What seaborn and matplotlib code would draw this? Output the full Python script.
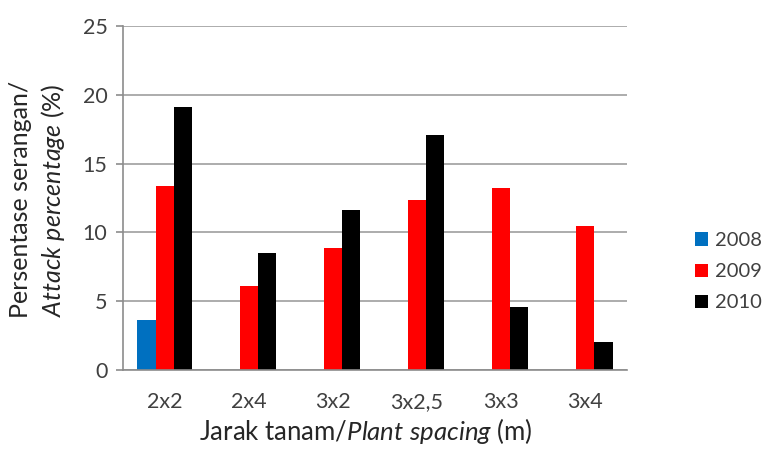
import matplotlib
matplotlib.use("Agg")
import matplotlib.pyplot as plt
import pandas as pd
import seaborn as sns

spacing = ["2x2", "2x4", "3x2", "3x2,5", "3x3", "3x4"]
years = ["2008", "2009", "2010"]
attack_2008 = [3.6, None, None, None, None, None]
attack_2009 = [13.35, 6.1, 8.87, 12.33, 13.25, 10.47]
attack_2010 = [19.14, 8.53, 11.65, 17.05, 4.55, 2.03]
colors = ["#0070C0", "#FF0000", "#000000"]

rows = []
for year, vals in zip(years, [attack_2008, attack_2009, attack_2010]):
    for sp, v in zip(spacing, vals):
        if v is not None:
            rows.append({"spacing": sp, "year": year, "value": v})
df = pd.DataFrame(rows)

sns.set_style("white")
plt.rcParams["font.family"] = ["Lato", "DejaVu Sans"]
plt.rcParams["mathtext.fontset"] = "custom"
plt.rcParams["mathtext.rm"] = "Lato"
plt.rcParams["mathtext.it"] = "Lato:italic"

fig = plt.figure(figsize=(7.77, 4.5), dpi=100)
ax = fig.add_axes([0.158, 0.178, 0.649, 0.764])

sns.barplot(data=df, x="spacing", y="value", hue="year", order=spacing,
            hue_order=years, palette=colors, width=0.655, saturation=1,
            edgecolor="none", ax=ax)

ax.set_ylim(0, 25)
ax.set_xlim(-0.5, 5.5)
ax.set_yticks([0, 5, 10, 15, 20, 25])
ax.yaxis.grid(True, color="#a6a6a6", linewidth=1.3)
ax.set_axisbelow(True)
for s in ["top", "right"]:
    ax.spines[s].set_visible(False)
for s in ["left", "bottom"]:
    ax.spines[s].set_color("#8c8c8c")
    ax.spines[s].set_linewidth(1.2)

ax.set_xticks([i + 0.5 for i in range(-1, 6)], minor=True)
ax.tick_params(axis="x", which="minor", length=8, color="#8c8c8c", width=1.2, direction="out")
ax.tick_params(axis="x", which="major", length=0, pad=16, labelsize=15.5, labelcolor="#404040")
ax.tick_params(axis="y", length=5, color="#8c8c8c", width=1.2, direction="out",
               left=True, pad=6, labelsize=15.5, labelcolor="#404040")

ax.set_xlabel("")
ax.set_ylabel("")
fig.text(0.471, 0.042, r"Jarak tanam/$\mathit{Plant\ spacing}$ (m)", fontsize=18.5,
         ha="center", va="center")
fig.text(0.026, 0.556, "Persentase serangan/", rotation=90, fontsize=18,
         ha="center", va="center")
fig.text(0.068, 0.556, r"$\mathit{Attack\ percentage}$ (%)", rotation=90, fontsize=18,
         ha="center", va="center")

handles, labels = ax.get_legend_handles_labels()
ax.legend(handles, labels, loc="center left", bbox_to_anchor=(0.894, 0.396),
          bbox_transform=fig.transFigure, frameon=False, fontsize=14.5,
          borderpad=0, borderaxespad=0,
          handlelength=0.65, handleheight=0.65, handletextpad=0.35,
          labelspacing=0.7, labelcolor="#404040")

fig.savefig("out.png", dpi=100)
